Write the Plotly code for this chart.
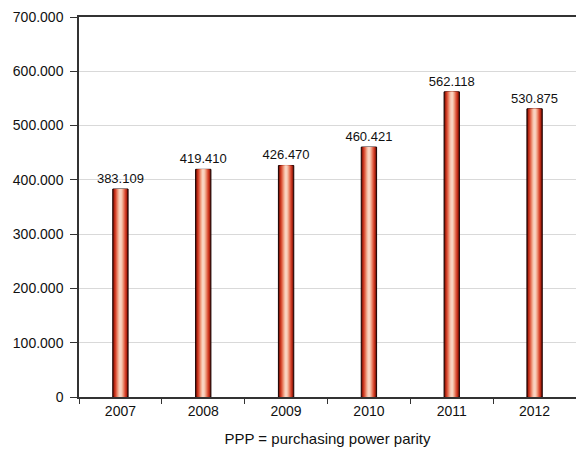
import plotly.graph_objects as go

# Annual values in PPP terms
years = ["2007", "2008", "2009", "2010", "2011", "2012"]
values = [383109, 419410, 426470, 460421, 562118, 530875]

y_tickvals = [0, 100000, 200000, 300000, 400000, 500000, 600000, 700000]

# Cylinder-style shading: stacked bars, outer dark edge to light centre
bar_width = 0.185
shades = [
    (1.00, "#6e1206"),
    (0.86, "#b52814"),
    (0.72, "#d4422a"),
    (0.58, "#e2684e"),
    (0.44, "#ec9276"),
    (0.30, "#f4b89e"),
    (0.16, "#f9d2c0"),
]

fig = go.Figure()
for i, (frac, color) in enumerate(shades):
    outer = i == 0
    fig.add_trace(go.Bar(
        x=years,
        y=values,
        width=bar_width * frac,
        marker=dict(color=color,
                    line=dict(color="#1a0000", width=1 if outer else 0)),
        texttemplate="%{y:,d}" if outer else None,
        textposition="outside" if outer else "none",
        constraintext="none",
        outsidetextfont=dict(family="Liberation Sans, Arial, sans-serif", size=13, color="#111111"),
        cliponaxis=False,
        hoverinfo="skip",
        showlegend=False,
    ))

fig.update_layout(
    barmode="overlay",
    separators=",.",
    width=576,
    height=452,
    margin=dict(l=79, r=0, t=17, b=55),
    paper_bgcolor="white",
    plot_bgcolor="white",
    font=dict(family="Liberation Sans, Arial, sans-serif", size=14, color="#111111"),
    xaxis=dict(
        type="category",
        tickson="boundaries",
        ticks="outside",
        ticklen=5,
        tickcolor="#333333",
        showline=True,
        linecolor="#333333",
        linewidth=1.5,
        mirror=True,
        showgrid=False,
        tickfont=dict(size=14),
        title=dict(text="PPP = purchasing power parity", font=dict(size=15), standoff=16),
    ),
    yaxis=dict(
        range=[0, 700000],
        tickvals=y_tickvals,
        tickformat=",d",
        ticks="outside",
        ticklen=7,
        tickcolor="#333333",
        ticklabelstandoff=4,
        showline=True,
        linecolor="#333333",
        linewidth=1.5,
        showgrid=True,
        gridcolor="#d9d9d9",
        gridwidth=1,
        zeroline=False,
        tickfont=dict(size=14),
    ),
)

fig.write_html("out.html")
